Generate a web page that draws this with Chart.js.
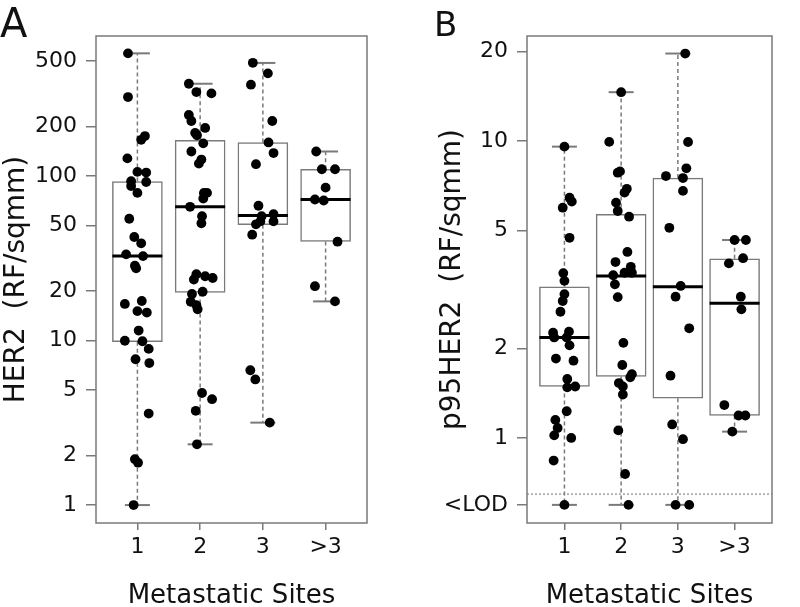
<!DOCTYPE html>
<html>
<head>
<meta charset="utf-8">
<script src="https://cdn.jsdelivr.net/npm/chart.js@4"></script>
<style>
  body { margin: 0; background: #fff; width: 800px; height: 607px; position: relative; overflow: hidden; font-family: "DejaVu Sans", sans-serif; }
  .panel { position: absolute; top: 0; width: 400px; height: 607px; }
  .tag { position: absolute; line-height: 1; color: #111; }
</style>
</head>
<body>
<div class="panel" style="left:0"><canvas id="chartA" width="400" height="607"></canvas></div>
<div class="panel" style="left:400px"><canvas id="chartB" width="400" height="607"></canvas></div>
<div class="tag" style="left:0;top:3px;font-size:40px">A</div>
<div class="tag" style="left:434px;top:7px;font-size:34px">B</div>
<script>
const categories = ['1', '2', '3', '>3'];
const xTitle = 'Metastatic Sites';

// Panel A: HER2 (RF/sqmm), log scale
const her2Ticks = [1, 2, 5, 10, 20, 50, 100, 200, 500];
// [low whisker, q1, median, q3, high whisker] per category
const her2Boxes = [
  [1.0, 9.84, 32.6, 92.5, 557],
  [2.34, 19.6, 65, 165, 364],
  [3.17, 50.6, 57.6, 160, 487],
  [17.3, 40, 72, 110, 141]
];
// jittered points: [jitter, value]
const her2Pts1 = [[-0.15,557],[-0.15,302],[0.12,175],[0.06,166],[-0.16,128],[0,106],[0.14,105],[-0.1,93],[0.14,92],[-0.1,87],[0,79],[-0.13,55],[-0.05,42.6],[0.06,39],[-0.18,33.4],[0.09,32.6],[-0.04,28.5],[-0.02,27.5],[-0.2,16.7],[0.07,17.4],[0,15.1],[0.15,14.8],[0.02,11.5],[-0.2,9.97],[0.08,9.9],[0.18,8.9],[-0.03,7.7],[0.19,7.3],[0.18,3.6],[-0.04,1.9],[0.01,1.81],[-0.06,1.0]];
const her2Pts2 = [[-0.18,364],[-0.06,324],[0.18,318],[-0.18,235],[-0.14,216],[0.08,196],[-0.08,183],[-0.05,177],[0.05,158],[-0.14,141],[0.02,126],[-0.02,119],[0.06,79],[0.11,79],[0.05,73],[-0.16,65],[0.03,57],[0.02,51.6],[-0.06,25.3],[0.08,24.6],[0.2,24],[-0.1,23.5],[-0.13,19.2],[0.04,19.8],[-0.15,17.2],[-0.06,16.4],[-0.04,15.5],[0.03,4.8],[0.19,4.4],[-0.07,3.74],[-0.05,2.34]];
const her2Pts3 = [[-0.16,488],[0.08,421],[-0.19,359],[0.15,216],[0.09,160],[0.17,138],[-0.11,118],[-0.07,66],[-0.02,57],[0.17,58.6],[-0.04,53],[0.17,53],[-0.11,50.9],[-0.17,44],[-0.2,6.6],[-0.12,5.8],[0.11,3.17]];
const her2Pts4 = [[-0.15,141],[-0.06,110],[0.15,110],[0,85],[-0.17,72],[-0.03,71],[0.19,39.9],[-0.17,21.4],[0.15,17.3]];

// Panel B: p95HER2 (RF/sqmm), log scale with <LOD row
const LOD = 0.595;       // where values below the limit are plotted
const lodLine = 0.647;   // dotted limit-of-detection line
const p95Ticks = [LOD, 1, 2, 5, 10, 20];
const p95Boxes = [
  [LOD, 1.49, 2.18, 3.23, 9.57],
  [LOD, 1.61, 3.51, 5.66, 14.6],
  [LOD, 1.36, 3.23, 7.5, 19.7],
  [1.05, 1.19, 2.84, 4.01, 4.64]
];
const p95Pts1 = [[0,9.57],[0.09,6.44],[0.13,6.25],[-0.03,5.96],[0.09,4.72],[-0.02,3.59],[0,3.38],[0,3.05],[-0.03,2.89],[-0.07,2.66],[-0.2,2.26],[-0.18,2.18],[0.08,2.28],[0.04,2.18],[0.09,2.05],[-0.15,1.85],[0.16,1.82],[0.05,1.58],[0.05,1.48],[0.19,1.49],[0.04,1.23],[-0.16,1.15],[-0.12,1.08],[-0.18,1.02],[0.12,1.0],[-0.19,0.839],[0,LOD]];
const p95Pts2 = [[0,14.6],[-0.21,9.93],[-0.06,7.82],[-0.02,7.9],[0.1,6.9],[0.06,6.7],[-0.09,6.2],[-0.06,5.81],[0.14,5.56],[0.11,4.23],[-0.1,3.91],[0.17,3.77],[0.06,3.6],[0.19,3.6],[-0.14,3.53],[-0.11,3.29],[-0.06,2.98],[0.04,2.09],[0.02,1.76],[0.19,1.64],[0.16,1.6],[-0.04,1.53],[0.03,1.49],[0.03,1.40],[-0.05,1.06],[0.07,0.756],[0.13,LOD]];
const p95Pts3 = [[0.13,19.7],[0.18,9.92],[0.15,8.09],[-0.21,7.62],[0.09,7.5],[0.09,6.79],[-0.15,5.1],[0.05,3.25],[-0.04,2.99],[0.2,2.34],[-0.13,1.62],[-0.1,1.11],[0.09,0.99],[-0.04,LOD],[0.2,LOD]];
const p95Pts4 = [[0,4.64],[0.2,4.64],[-0.1,3.87],[0.15,4.03],[0.11,2.99],[0.12,2.71],[-0.18,1.29],[0.07,1.19],[0.19,1.19],[-0.04,1.05]];

const FONT = '"DejaVu Sans", sans-serif';
const TEXT = '#111';
const GRAY = '#7a7a7a';
const X_MIN = 0.34, X_MAX = 4.66;

const framePlugin = {
  id: 'frame',
  afterDatasetsDraw(chart) {
    const { ctx, chartArea: a } = chart;
    ctx.save();
    ctx.strokeStyle = GRAY;
    ctx.lineWidth = 1.5;
    ctx.strokeRect(a.left, a.top, a.right - a.left, a.bottom - a.top);
    ctx.restore();
  }
};

function makeChart(id, o) {
  const points = [];
  o.pts.forEach((arr, i) => arr.forEach(([j, v]) => points.push({ x: i + 1 + j, y: v })));
  const medians = o.boxes.map((b, i) => ({ x: i + 1, y: b[2] }));
  const caps = [];
  const whiskers = [];
  const boxes = [];
  o.boxes.forEach((b, i) => {
    const x = i + 1;
    caps.push({ x, y: b[0] }, { x, y: b[4] });
    whiskers.push({ x, y: b[3] }, { x, y: b[4] }, { x, y: null }, { x, y: b[1] }, { x, y: b[0] }, { x, y: null });
    boxes.push({ x, y: [b[1], b[3]] });
  });

  const datasets = [
    { type: 'scatter', data: points, pointRadius: 4.9, pointBackgroundColor: '#000', pointBorderWidth: 0 },
    { type: 'scatter', data: medians, pointStyle: 'line', pointRadius: 25, pointBorderColor: '#000', pointBorderWidth: 3 },
    { type: 'scatter', data: caps, pointStyle: 'line', pointRadius: 12.5, pointBorderColor: GRAY, pointBorderWidth: 2 },
    { type: 'bar', data: boxes, backgroundColor: '#fff', borderColor: GRAY, borderWidth: 1.5, borderSkipped: false, barThickness: 50 },
    { type: 'line', data: whiskers, borderColor: GRAY, borderWidth: 1.5, borderDash: [4, 3], pointRadius: 0, spanGaps: false }
  ];
  if (o.lod) {
    datasets.push({ type: 'line', data: [{ x: X_MIN, y: o.lod }, { x: X_MAX, y: o.lod }], borderColor: '#888', borderWidth: 1.2, borderDash: [2, 2], pointRadius: 0 });
  }

  return new Chart(document.getElementById(id), {
    type: 'scatter',
    data: { datasets },
    plugins: [framePlugin],
    options: {
      responsive: false,
      animation: false,
      layout: { padding: { left: o.padLeft, right: o.padRight, top: 36, bottom: 0 } },
      plugins: { legend: { display: false }, tooltip: { enabled: false } },
      scales: {
        x: {
          type: 'linear', min: X_MIN, max: X_MAX, offset: false,
          afterBuildTicks: s => { s.ticks = [1, 2, 3, 4].map(v => ({ value: v })); },
          afterFit: s => { s.height = 84; },
          ticks: { callback: v => categories[Math.round(v) - 1], color: TEXT, font: { family: FONT, size: 22 }, padding: 4, maxRotation: 0 },
          grid: { offset: false, drawOnChartArea: false, tickLength: 7, color: GRAY, lineWidth: 1.5 },
          border: { display: false },
          title: { display: true, text: xTitle, color: TEXT, font: { family: FONT, size: 26, lineHeight: 0.85 }, padding: { top: 0, bottom: 0 } }
        },
        y: {
          type: 'logarithmic', min: o.min, max: o.max,
          afterBuildTicks: s => { s.ticks = o.ticks.map(v => ({ value: v })); },
          afterFit: s => { s.width = o.axisWidth; },
          ticks: { callback: v => (v === LOD && o.lod ? '<LOD' : String(v)), color: TEXT, font: { family: FONT, size: 22 }, padding: 9 },
          grid: { drawOnChartArea: false, tickLength: 10, color: GRAY, lineWidth: 1.5 },
          border: { display: false },
          title: { display: true, text: o.yTitle, color: TEXT, font: { family: FONT, size: 28, lineHeight: 1.1 }, padding: { top: o.titlePad, bottom: 0 } }
        }
      }
    }
  });
}

makeChart('chartA', {
  pts: [her2Pts1, her2Pts2, her2Pts3, her2Pts4], boxes: her2Boxes, ticks: her2Ticks,
  min: 0.778, max: 710, yTitle: 'HER2  (RF/sqmm)',
  padLeft: 0, padRight: 33, axisWidth: 96, titlePad: 1
});
makeChart('chartB', {
  pts: [p95Pts1, p95Pts2, p95Pts3, p95Pts4], boxes: p95Boxes, ticks: p95Ticks,
  min: 0.517, max: 22.57, yTitle: 'p95HER2  (RF/sqmm)', lod: lodLine,
  padLeft: 33, padRight: 3, axisWidth: 94, titlePad: 4
});
</script>
</body>
</html>
